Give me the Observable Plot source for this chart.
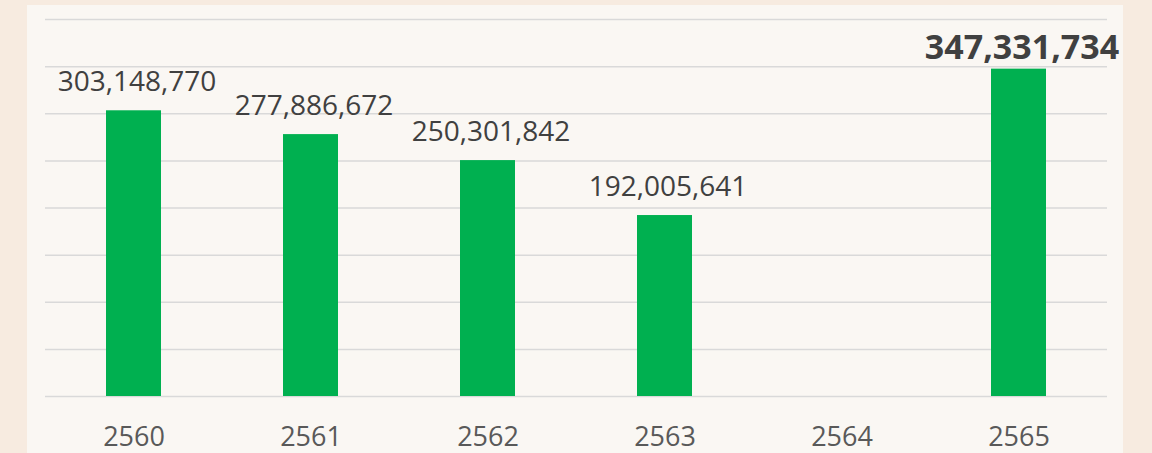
<!DOCTYPE html>
<html>
<head>
<meta charset="utf-8">
<script src="https://cdn.jsdelivr.net/npm/d3@7"></script>
<script src="https://cdn.jsdelivr.net/npm/@observablehq/plot@0.6"></script>
<style>
  html, body { margin: 0; padding: 0; }
  body { width: 1152px; height: 453px; background: #f7ebe0; position: relative; overflow: hidden; font-family: "Open Sans", sans-serif; }
  #panel { position: absolute; left: 27px; top: 5px; width: 1096px; height: 448px; background: #faf7f3; }
  #chart { position: absolute; left: 0; top: 0; }
  #chart svg { background: transparent; }
</style>
</head>
<body>
<div id="panel"></div>
<div id="chart"></div>
<script>
const years = ["2560", "2561", "2562", "2563", "2564", "2565"];
const values = [303148770, 277886672, 250301842, 192005641, null, 347331734];
const gridTicks = [0, 50e6, 100e6, 150e6, 200e6, 250e6, 300e6, 350e6, 400e6];

const data = years.map((y, i) => ({year: y, value: values[i], last: i === years.length - 1}));
const present = data.filter(d => d.value != null);
const fmt = d3.format(",");

const chart = Plot.plot({
  width: 1152,
  height: 453,
  marginLeft: 45,
  marginRight: 45,
  marginTop: 19,
  marginBottom: 57,
  style: {background: "transparent", fontFamily: "'Open Sans', sans-serif"},
  x: {domain: years, paddingInner: 0.69, paddingOuter: 0.345, label: null},
  y: {domain: [0, 400e6], axis: null},
  marks: [
    Plot.ruleY(gridTicks, {stroke: "#d9d9d9", strokeWidth: 1.5}),
    Plot.barY(present, {x: "year", y: "value", fill: "#00b050"}),
    Plot.text(present.filter(d => !d.last), {
      x: "year", y: "value", text: d => fmt(d.value),
      lineAnchor: "bottom", dy: -20, dx: 3, fontSize: 28, fill: "#404040"
    }),
    Plot.text(present.filter(d => d.last), {
      x: "year", y: "value", text: d => fmt(d.value),
      lineAnchor: "bottom", dy: -10, dx: 3, fontSize: 34, fontWeight: "bold", fill: "#404040"
    }),
    Plot.axisX({tickSize: 0, tickPadding: 30, fontSize: 27, color: "#595959", label: null})
  ]
});
document.getElementById("chart").appendChild(chart);
</script>
</body>
</html>
